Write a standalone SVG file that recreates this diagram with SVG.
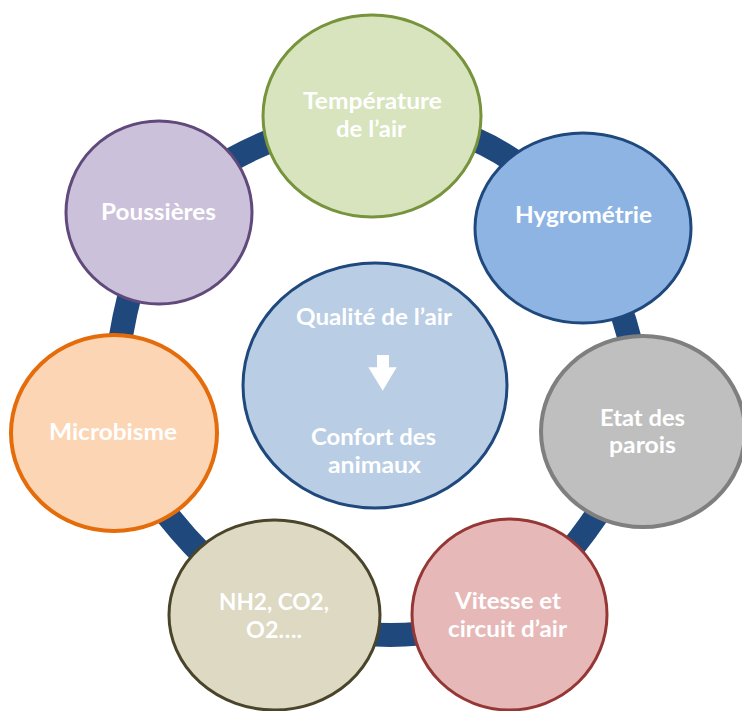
<svg xmlns="http://www.w3.org/2000/svg" width="742" height="711" viewBox="0 0 742 711">
<style>
.lbl{font-family:Lato,"Open Sans","Liberation Sans",sans-serif;font-weight:700;font-size:22px;fill:#FFFFFF;text-anchor:middle}
.conn{fill:none;stroke:#1F497D;stroke-width:24}
</style>
<rect width="742" height="711" fill="#FFFFFF"/>
<g id="connectors">
<path class="conn" d="M372,116 Q503.7,122 583,228"/>
<path class="conn" d="M583,228 Q639,322 643,431"/>
<path class="conn" d="M643,431 Q596.4,537.5 509,614"/>
<path class="conn" d="M509,614 Q391.5,655.5 274,615"/>
<path class="conn" d="M274,615 Q172,543.4 114,433"/>
<path class="conn" d="M114,433 Q111.4,317.4 159,212"/>
<path class="conn" d="M159,212 Q249.7,128.8 372,116"/>
</g>
<g id="center">
<ellipse cx="375" cy="385.5" rx="132" ry="122.5" fill="#B9CDE5" stroke="#1F497D" stroke-width="3"/>
<text class="lbl" x="374" y="325" textLength="156" lengthAdjust="spacingAndGlyphs">Qualité de l’air</text>
<polygon points="377,355 389,355 389,367.3 396.7,367.3 382.7,390.7 368.3,367.3 377,367.3" fill="#FFFFFF"/>
<text class="lbl" x="373.5" y="445" textLength="125" lengthAdjust="spacingAndGlyphs">Confort des</text>
<text class="lbl" x="374.5" y="473" textLength="93" lengthAdjust="spacingAndGlyphs">animaux</text>
</g>
<g id="temperature">
<ellipse cx="372" cy="116" rx="109" ry="101" fill="#D7E4BD" stroke="#77933C" stroke-width="3"/>
<text class="lbl" x="372.5" y="109" textLength="139" lengthAdjust="spacingAndGlyphs">Température</text>
<text class="lbl" x="371" y="137" textLength="70" lengthAdjust="spacingAndGlyphs">de l’air</text>
</g>
<g id="hygrometrie">
<ellipse cx="583" cy="228" rx="108" ry="95" fill="#8EB4E3" stroke="#1F497D" stroke-width="3"/>
<text class="lbl" x="583.5" y="223" textLength="137" lengthAdjust="spacingAndGlyphs">Hygrométrie</text>
</g>
<g id="etat">
<ellipse cx="643" cy="431.5" rx="102" ry="95.5" fill="#BFBFBF" stroke="#7F7F7F" stroke-width="4"/>
<text class="lbl" x="642.5" y="426" textLength="85" lengthAdjust="spacingAndGlyphs">Etat des</text>
<text class="lbl" x="642.5" y="453" textLength="67" lengthAdjust="spacingAndGlyphs">parois</text>
</g>
<g id="vitesse">
<ellipse cx="509.5" cy="614.5" rx="97.5" ry="95.5" fill="#E6B9B8" stroke="#953735" stroke-width="3"/>
<text class="lbl" x="508" y="609" textLength="106" lengthAdjust="spacingAndGlyphs">Vitesse et</text>
<text class="lbl" x="507.5" y="637" textLength="119" lengthAdjust="spacingAndGlyphs">circuit d’air</text>
</g>
<g id="gaz">
<ellipse cx="274.5" cy="615" rx="105.5" ry="95" fill="#DDD9C3" stroke="#4A452A" stroke-width="3"/>
<text class="lbl" x="274" y="610" textLength="110" lengthAdjust="spacingAndGlyphs">NH2, CO2,</text>
<text class="lbl" x="274" y="638" textLength="56" lengthAdjust="spacingAndGlyphs">O2….</text>
</g>
<g id="microbisme">
<ellipse cx="114" cy="433" rx="103" ry="98" fill="#FCD5B5" stroke="#E46C0A" stroke-width="4"/>
<text class="lbl" x="113" y="440" textLength="128" lengthAdjust="spacingAndGlyphs">Microbisme</text>
</g>
<g id="poussieres">
<ellipse cx="159" cy="212.5" rx="93" ry="91.5" fill="#CCC1DA" stroke="#604A7B" stroke-width="3"/>
<text class="lbl" x="158.5" y="220" textLength="115" lengthAdjust="spacingAndGlyphs">Poussières</text>
</g>
</svg>
